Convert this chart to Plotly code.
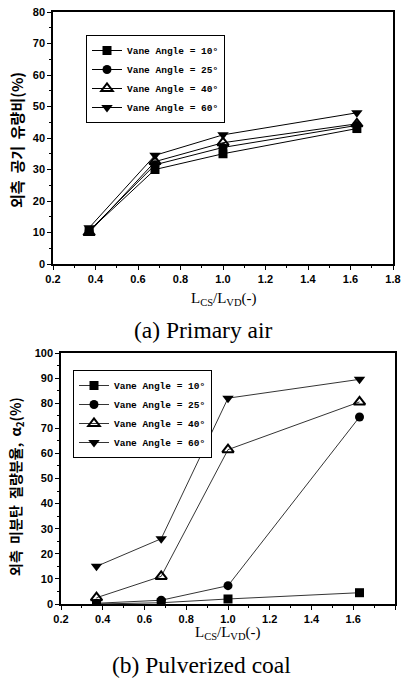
import plotly.graph_objects as go

W, H = 401, 684

# ---- data ----
x_ratio = [0.37, 0.68, 1.0, 1.63]
series_names = ["Vane Angle = 10°", "Vane Angle = 25°", "Vane Angle = 40°", "Vane Angle = 60°"]
primary_air_10 = [10.5, 30.0, 35.0, 43.0]
primary_air_25 = [10.5, 31.5, 37.0, 44.0]
primary_air_40 = [10.0, 32.5, 38.5, 44.5]
primary_air_60 = [11.5, 34.5, 41.0, 48.0]
coal_10 = [0.0, 0.5, 2.0, 4.5]
coal_25 = [0.3, 1.5, 7.3, 74.5]
coal_40 = [2.5, 11.0, 61.5, 80.5]
coal_60 = [15.0, 26.0, 82.0, 89.5]
x_ticks = [0.2, 0.4, 0.6, 0.8, 1.0, 1.2, 1.4, 1.6, 1.8]
top_y_ticks = [0, 10, 20, 30, 40, 50, 60, 70, 80]
bot_y_ticks = [0, 10, 20, 30, 40, 50, 60, 70, 80, 90, 100]

markers = [
    dict(symbol="square", size=9, color="black"),
    dict(symbol="circle", size=9, color="black"),
    dict(symbol="triangle-up-open", size=10, color="black", line=dict(width=2, color="black")),
    dict(symbol="triangle-down", size=10, color="black"),
]

def px(x):
    return x / W

def py(y):
    return 1 - y / H

fig = go.Figure()

top_sets = [primary_air_10, primary_air_25, primary_air_40, primary_air_60]
bot_sets = [coal_10, coal_25, coal_40, coal_60]

for name, ys, mk in zip(series_names, top_sets, markers):
    fig.add_trace(go.Scatter(x=x_ratio, y=ys, mode="lines+markers", name=name,
                             line=dict(color="black", width=1), marker=mk,
                             xaxis="x", yaxis="y", legend="legend"))
for name, ys, mk in zip(series_names, bot_sets, markers):
    fig.add_trace(go.Scatter(x=x_ratio, y=ys, mode="lines+markers", name=name,
                             line=dict(color="black", width=0.8), marker=mk,
                             xaxis="x2", yaxis="y2", legend="legend2"))

tickfont = dict(family="Liberation Sans, Arial", size=11, color="black", weight="bold")

def xaxis(domain, anchor):
    return dict(domain=domain, anchor=anchor, range=[0.2, 1.8], tickvals=x_ticks,
                ticktext=[f"{v:.1f}" for v in x_ticks], automargin=False,
                showline=True, linecolor="black", linewidth=1.5, mirror=True,
                ticks="outside", ticklen=4, tickcolor="black", tickwidth=1.2,
                minor=dict(dtick=0.1, ticks="outside", ticklen=2, tickcolor="black"),
                showgrid=False, zeroline=False, tickfont=tickfont)

def yaxis(domain, anchor, rng, vals):
    return dict(domain=domain, anchor=anchor, range=rng, tickvals=vals, automargin=False,
                showline=True, linecolor="black", linewidth=1.5, mirror=True,
                ticks="outside", ticklen=4, tickcolor="black", tickwidth=1.2,
                minor=dict(dtick=5, ticks="outside", ticklen=2, tickcolor="black"),
                showgrid=False, zeroline=False, tickfont=tickfont)

legend_common = dict(bgcolor="white", bordercolor="black", borderwidth=1,
                     font=dict(family="Liberation Mono", size=9.5, color="black", weight="bold"),
                     xanchor="left", yanchor="top", tracegroupgap=0, itemwidth=30)

serif = "Liberation Serif, Times New Roman"
kfont = "Noto Sans CJK KR"

def note(text, x, y, font, angle=0):
    return dict(text=text, x=px(x), y=py(y), xref="paper", yref="paper",
                xanchor="center", yanchor="middle", showarrow=False,
                textangle=angle, font=font)

fig.update_layout(
    width=W, height=H, margin=dict(l=0, r=0, t=0, b=0, autoexpand=False),
    paper_bgcolor="white", plot_bgcolor="white",
    xaxis=xaxis([px(53), px(393)], "y"),
    yaxis=yaxis([py(264), py(12)], "x", [0, 80], top_y_ticks),
    xaxis2=xaxis([px(61), px(395)], "y2"),
    yaxis2=yaxis([py(604), py(353)], "x2", [0, 100], bot_y_ticks),
    legend=dict(x=px(86), y=py(35), **legend_common),
    legend2=dict(x=px(73), y=py(370), **legend_common),
    showlegend=True,
    annotations=[
        note("L<sub>CS</sub>/L<sub>VD</sub>(-)", 224, 299, dict(family=serif, size=15, color="black")),
        note("(a) Primary air", 203, 330, dict(family=serif, size=23.5, color="black")),
        note("L<sub>CS</sub>/L<sub>VD</sub>(-)", 228, 633, dict(family=serif, size=15, color="black")),
        note("(b) Pulverized coal", 201, 665, dict(family=serif, size=23.5, color="black")),
        note("외측  공기  유량비(%)", 16, 140,
             dict(family=kfont, size=15, color="black", weight="bold"), -90),
        note("외측  미분탄  질량분율,  α<sub>2</sub>(%)", 16, 487,
             dict(family=kfont, size=14, color="black", weight="bold"), -90),
    ],
)

fig.write_html("out.html", config={"displayModeBar": False},
               post_script="document.body.style.margin='0';document.body.style.overflow='hidden';")
